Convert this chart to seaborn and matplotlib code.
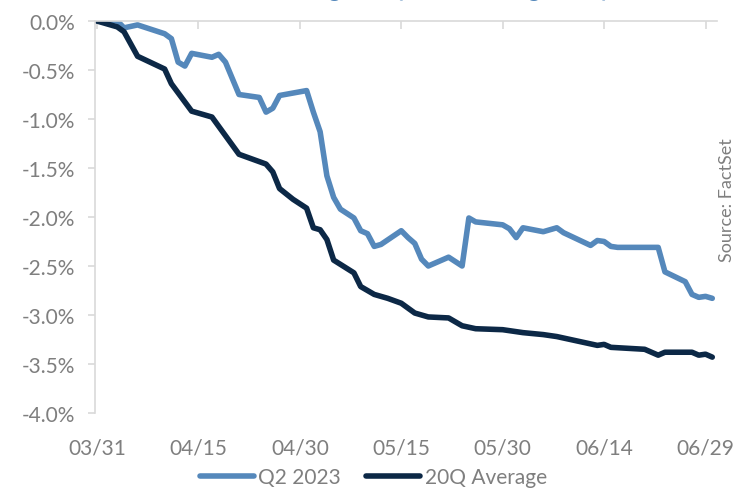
import matplotlib
matplotlib.use("Agg")
import pandas as pd
import seaborn as sns
import matplotlib.pyplot as plt
import matplotlib.dates as mdates
from matplotlib.ticker import MultipleLocator, FuncFormatter
from matplotlib.lines import Line2D

# Data (cumulative % change, 2023 dates)
dates_q2 = ["03/31", "04/03", "04/04", "04/06", "04/10", "04/11", "04/12", "04/13", "04/14",
            "04/17", "04/18", "04/19", "04/21", "04/24", "04/25", "04/26", "04/27", "05/01",
            "05/02", "05/03", "05/04", "05/05", "05/06", "05/08", "05/09", "05/10", "05/11",
            "05/12", "05/15", "05/16", "05/17", "05/18", "05/19", "05/22", "05/24", "05/25",
            "05/26", "05/30", "05/31", "06/01", "06/02", "06/05", "06/07", "06/08", "06/12",
            "06/13", "06/14", "06/15", "06/16", "06/22", "06/23", "06/26", "06/27", "06/28",
            "06/29", "06/30"]
values_q2 = [0.00, 0.00, -0.07, -0.04, -0.13, -0.18, -0.42, -0.46, -0.33,
             -0.37, -0.34, -0.42, -0.75, -0.78, -0.93, -0.89, -0.76, -0.71,
             -0.93, -1.13, -1.58, -1.80, -1.92, -2.01, -2.14, -2.17, -2.30,
             -2.28, -2.14, -2.21, -2.27, -2.43, -2.50, -2.41, -2.50, -2.01,
             -2.05, -2.08, -2.12, -2.21, -2.11, -2.15, -2.11, -2.16, -2.29,
             -2.24, -2.25, -2.30, -2.31, -2.31, -2.56, -2.66, -2.79, -2.82,
             -2.81, -2.83]

dates_avg = ["03/31", "04/03", "04/04", "04/06", "04/10", "04/11", "04/14", "04/17", "04/19",
             "04/21", "04/25", "04/26", "04/27", "04/29", "05/01", "05/02", "05/03", "05/04",
             "05/05", "05/08", "05/09", "05/11", "05/13", "05/15", "05/17", "05/19", "05/22",
             "05/23", "05/24", "05/26", "05/30", "06/02", "06/05", "06/07", "06/09", "06/13",
             "06/14", "06/15", "06/20", "06/22", "06/23", "06/27", "06/28", "06/29", "06/30"]
values_avg = [0.00, -0.06, -0.11, -0.36, -0.49, -0.64, -0.92, -0.98, -1.17,
              -1.36, -1.46, -1.54, -1.71, -1.82, -1.91, -2.11, -2.13, -2.23,
              -2.44, -2.57, -2.71, -2.79, -2.83, -2.88, -2.98, -3.02, -3.03,
              -3.07, -3.11, -3.14, -3.15, -3.18, -3.20, -3.22, -3.25, -3.31,
              -3.30, -3.33, -3.35, -3.41, -3.38, -3.38, -3.41, -3.40, -3.43]

series_names = ["Q2 2023", "20Q Average"]
tick_labels = ["03/31", "04/15", "04/30", "05/15", "05/30", "06/14", "06/29"]

light_blue = "#5588BB"
navy = "#0C2846"
gray = "#7F7F7F"

def to_date(s):
    return pd.to_datetime("2023/" + s, format="%Y/%m/%d")

df = pd.concat([
    pd.DataFrame({"date": [to_date(d) for d in dates_q2], "value": values_q2, "series": series_names[0]}),
    pd.DataFrame({"date": [to_date(d) for d in dates_avg], "value": values_avg, "series": series_names[1]}),
])

sns.set_style("white")
plt.rcParams["font.family"] = ["Lato", "DejaVu Sans"]

fig = plt.figure(figsize=(7.35, 4.89), dpi=100)
ax = fig.add_axes([0.1293, 0.1534, 0.8463, 0.8016])

sns.lineplot(data=df, x="date", y="value", hue="series", palette=[light_blue, navy],
             linewidth=4, ax=ax, legend=False)

start = to_date("03/31")
ax.set_xlim(start - pd.Timedelta(hours=7), to_date("06/30") + pd.Timedelta(hours=17))
ax.set_ylim(-4.0, 0.0)
ax.set_xticks([to_date(t) for t in tick_labels])
ax.xaxis.set_major_formatter(mdates.DateFormatter("%m/%d"))
ax.yaxis.set_major_locator(MultipleLocator(0.5))
ax.yaxis.set_major_formatter(FuncFormatter(lambda v, p: f"{v:.1f}%" if abs(v) > 1e-9 else "0.0%"))

for side in ["right", "bottom"]:
    ax.spines[side].set_visible(False)
for side in ["left", "top"]:
    ax.spines[side].set_color("#D9D9D9")
    ax.spines[side].set_linewidth(1.2)

ax.tick_params(axis="x", top=True, bottom=False, labeltop=False, labelbottom=True,
               direction="in", length=6, width=1.2, color="#D9D9D9", pad=18,
               labelsize=15, labelcolor=gray)
ax.tick_params(axis="y", left=True, direction="out", length=5, width=1.2, color="#D9D9D9",
               pad=9, labelsize=15, labelcolor=gray)
ax.set_xlabel("")
ax.set_ylabel("")
ax.grid(False)

handles = [Line2D([], [], color=light_blue, linewidth=4, solid_capstyle="round"),
           Line2D([], [], color=navy, linewidth=4, solid_capstyle="round")]
leg = fig.legend(handles, series_names, loc="center", bbox_to_anchor=(0.508, 0.022), ncol=2,
                 frameon=False, fontsize=15, handlelength=2.6, handletextpad=0.2,
                 columnspacing=1.2, labelcolor=gray)

fig.text(0.989, 0.59, "Source: FactSet", rotation=90, ha="center", va="center",
         fontsize=13, color=gray)

# title is cut off at the top edge in the original
fig.text(0.558, 1 + 3 / 489, "Cumulative Change in Q2 EPS During the Quarter",
         ha="center", va="baseline", fontsize=17, color=light_blue)

fig.savefig("out.png", dpi=100)
